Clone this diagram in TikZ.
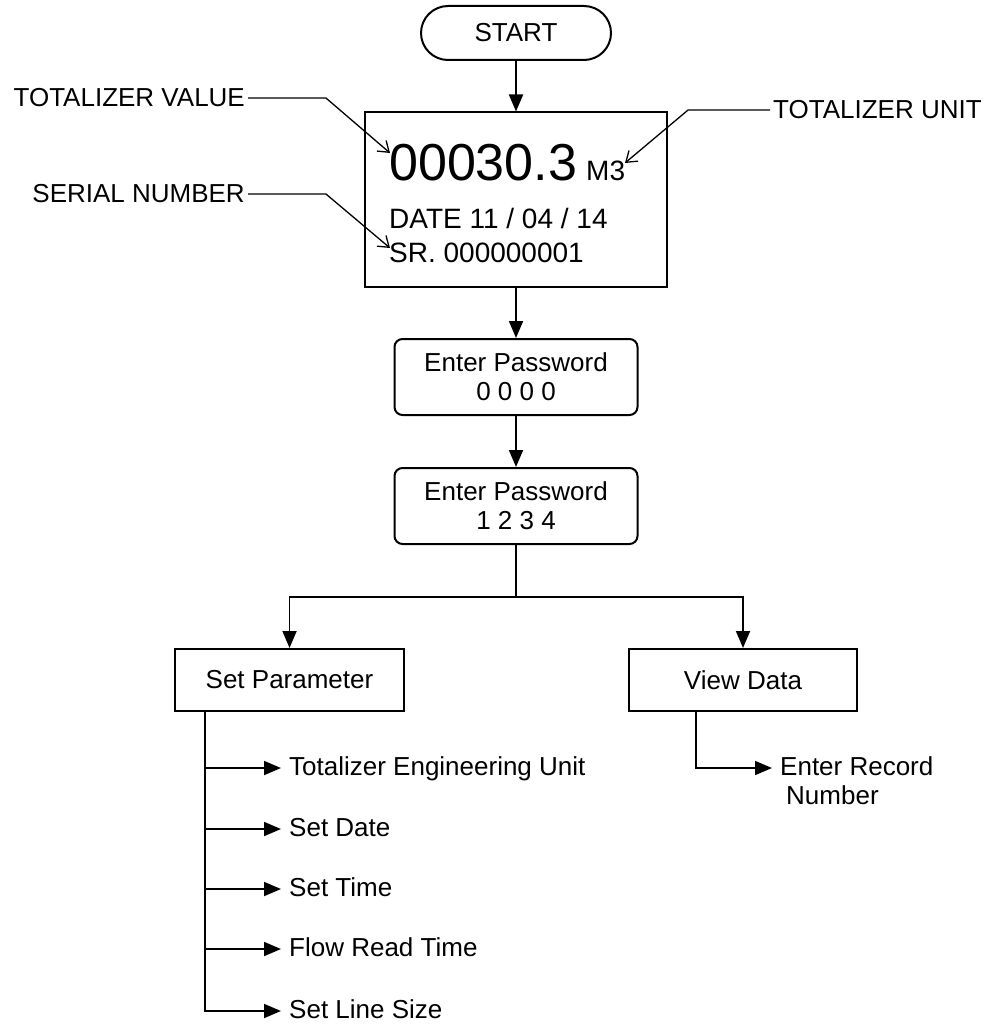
\documentclass[tikz,border=0pt]{standalone}
\usepackage{fontspec}
\setmainfont{Liberation Sans}
\usetikzlibrary{arrows.meta,shapes.misc,calc}
\begin{document}
\begin{tikzpicture}[x=1pt,y=-1pt,
  txt/.style={font=\fontsize{26}{29}\selectfont},
  box/.style={draw, line width=2pt, txt, inner sep=0pt},
  rbox/.style={box, rounded corners=8pt, align=center, minimum width=243pt, minimum height=76pt},
  flow/.style={line width=1.8pt, -{Triangle[length=17pt,width=14pt]}},
  plainline/.style={line width=1.8pt},
  lead/.style={line width=1.3pt, -{Straight Barb[length=10pt,width=14pt]}},
  lbl/.style={txt, inner xsep=3pt, inner ysep=0pt},
  item/.style={txt, anchor=west, inner xsep=8pt, inner ysep=0pt, text height=14pt, text depth=0pt},
  disptxt/.style={inner sep=0pt, anchor=base west, font=\fontsize{28}{32}\selectfont}
]
\useasboundingbox (0,0) rectangle (989,1024);

% top
\node[box, rounded rectangle, minimum width=190pt, minimum height=54pt] (start) at (516,33) {START};
\node[box, minimum width=302pt, minimum height=174pt] (disp) at (516,199.5) {};
\node[inner sep=0pt, anchor=base west, font=\fontsize{52}{60}\selectfont] (val) at (389,181) {00030.3};
\node[disptxt] (unit) at (586,181) {M3};
\node[disptxt] (date) at (389,229) {DATE 11 / 04 / 14};
\node[disptxt] (sr) at (389,262) {SR. 000000001};

% leader labels
\coordinate (valtip) at (390,153);
\coordinate (unittip) at (625,163);
\coordinate (srtip) at (390,248);
\node[lbl, anchor=base east] (tv) at (248,107) {TOTALIZER VALUE};
\node[lbl, anchor=base east] (sn) at (248,203) {SERIAL NUMBER};
\node[lbl, anchor=base west] (tu) at (770,119) {TOTALIZER UNIT};
\draw[lead] (tv.east) -- ++(78,0) -- (valtip);
\draw[lead] (sn.east) -- ++(78,0) -- (srtip);
\draw[lead] (tu.west) -- ++(-82,0) -- (unittip);

% passwords
\node[rbox] (pw1) at (516,377) {Enter Password\\0 0 0 0};
\node[rbox] (pw2) at (516,506) {Enter Password\\1 2 3 4};

% bottom boxes
\node[box, minimum width=229pt, minimum height=62pt] (setp) at (289.5,680) {Set Parameter};
\node[box, minimum width=228pt, minimum height=62pt] (view) at (743,680) {View Data};

% flow connectors
\draw[flow] (start) -- (disp);
\draw[flow] (disp) -- (pw1);
\draw[flow] (pw1) -- (pw2);
\draw[plainline] (pw2.south) -- ++(0,52) coordinate (split);
\draw[flow] (split) -| (setp.north);
\draw[flow] (split) -| (view.north);

% set parameter items
\node[item] (t1) at (281,768) {Totalizer Engineering Unit};
\node[item] (t2) at (281,829) {Set Date};
\node[item] (t3) at (281,889) {Set Time};
\node[item] (t4) at (281,949) {Flow Read Time};
\node[item] (t5) at (281,1011) {Set Line Size};
\coordinate (sp) at ([xshift=31pt]setp.south west);
\draw[flow] (sp) |- (t5.west);
\draw[flow] (sp |- t1.west) -- (t1.west);
\draw[flow] (sp |- t2.west) -- (t2.west);
\draw[flow] (sp |- t3.west) -- (t3.west);
\draw[flow] (sp |- t4.west) -- (t4.west);

% view data item
\node[item] (er) at (772,768) {Enter Record};
\node[txt, anchor=base west, inner sep=0pt] (num) at (786,804) {Number};
\coordinate (vd) at ([xshift=68pt]view.south west);
\draw[flow] (vd) |- (er.west);
\end{tikzpicture}
\end{document}
